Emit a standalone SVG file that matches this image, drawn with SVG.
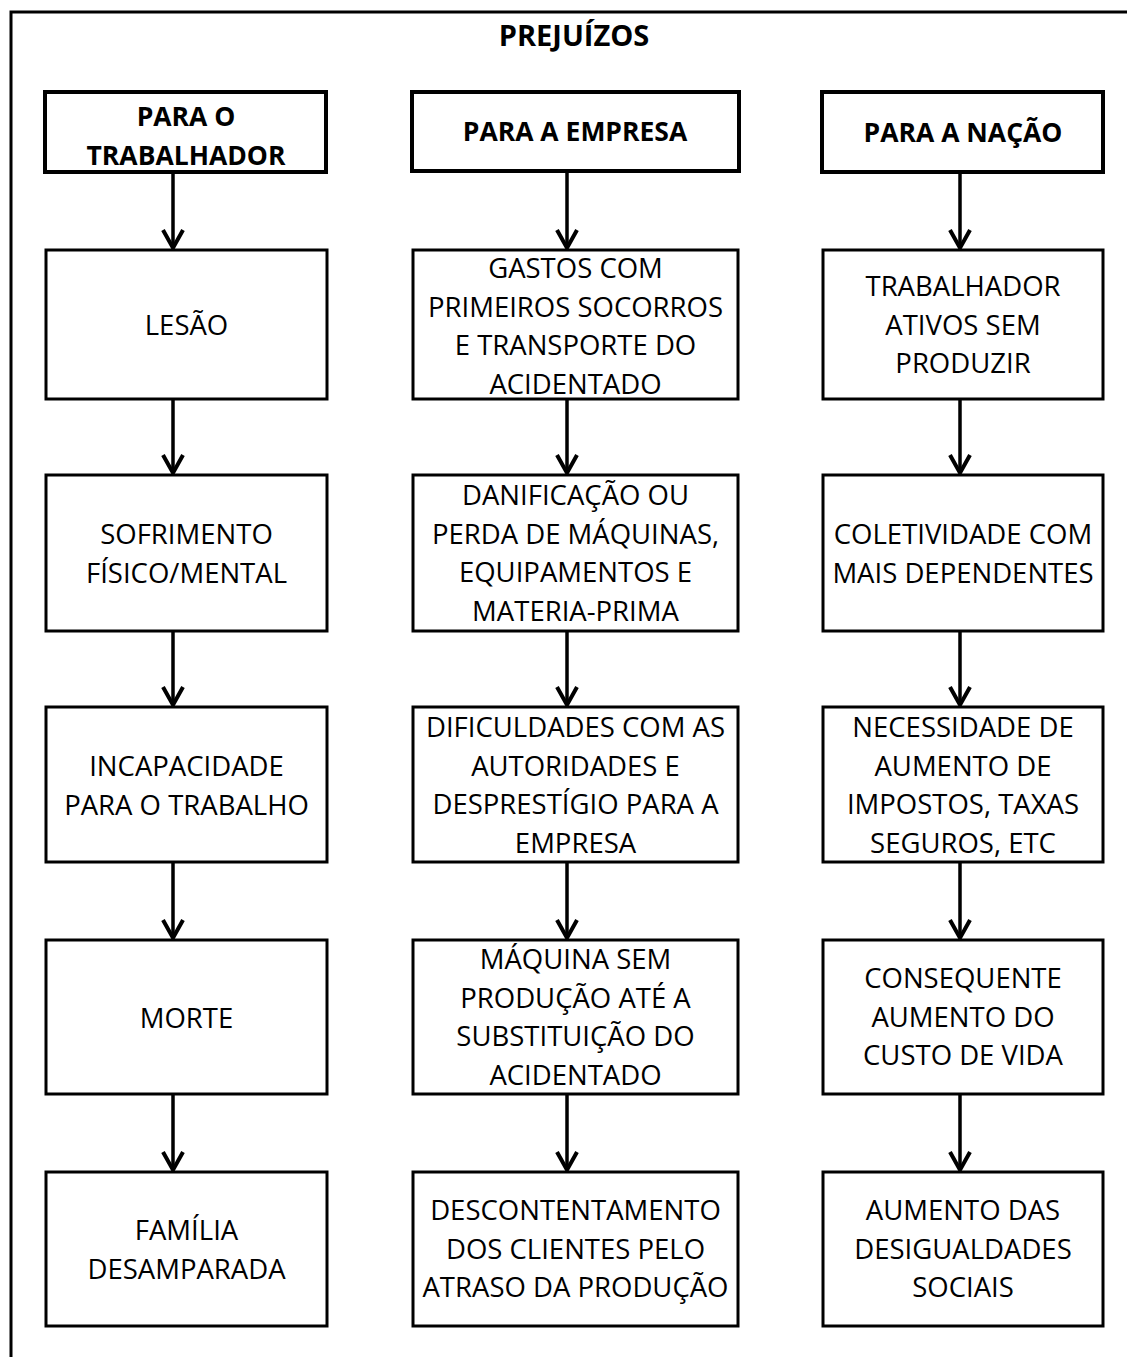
<svg xmlns="http://www.w3.org/2000/svg" width="1127" height="1357" viewBox="0 0 1127 1357">
<style>
  .frame{stroke:#000;stroke-width:3;fill:none}
  .hdr{fill:#fff;stroke:#000;stroke-width:4}
  .box{fill:#fff;stroke:#000;stroke-width:3}
  .t{font-family:"Open Sans","DejaVu Sans",sans-serif;font-size:27.5px;fill:#000;text-anchor:middle}
  .b{font-weight:bold;font-size:26.5px}
  .title{font-size:29px}
  .conn{stroke:#000;stroke-width:3.5;fill:none}
</style>
<defs>
  <marker id="arr" markerUnits="userSpaceOnUse" orient="auto" viewBox="-22 -12 24 24" markerWidth="24" markerHeight="24" refX="0" refY="0" overflow="visible">
    <path d="M-18,-10 L0,0 L-18,10" fill="none" stroke="#000" stroke-width="4"/>
  </marker>
</defs>
<rect width="1127" height="1357" fill="#fff"/>
<path class="frame" d="M11,1357 V12 H1127"/>
<text class="t b title" x="574" y="46">PREJUÍZOS</text>

<g id="connectors">
  <line class="conn" x1="173" y1="172" x2="173" y2="248" marker-end="url(#arr)"/>
  <line class="conn" x1="567" y1="172" x2="567" y2="248" marker-end="url(#arr)"/>
  <line class="conn" x1="960" y1="172" x2="960" y2="248" marker-end="url(#arr)"/>
  <line class="conn" x1="173" y1="399" x2="173" y2="473" marker-end="url(#arr)"/>
  <line class="conn" x1="567" y1="399" x2="567" y2="473" marker-end="url(#arr)"/>
  <line class="conn" x1="960" y1="399" x2="960" y2="473" marker-end="url(#arr)"/>
  <line class="conn" x1="173" y1="631" x2="173" y2="705" marker-end="url(#arr)"/>
  <line class="conn" x1="567" y1="631" x2="567" y2="705" marker-end="url(#arr)"/>
  <line class="conn" x1="960" y1="631" x2="960" y2="705" marker-end="url(#arr)"/>
  <line class="conn" x1="173" y1="862" x2="173" y2="938" marker-end="url(#arr)"/>
  <line class="conn" x1="567" y1="862" x2="567" y2="938" marker-end="url(#arr)"/>
  <line class="conn" x1="960" y1="862" x2="960" y2="938" marker-end="url(#arr)"/>
  <line class="conn" x1="173" y1="1094" x2="173" y2="1170" marker-end="url(#arr)"/>
  <line class="conn" x1="567" y1="1094" x2="567" y2="1170" marker-end="url(#arr)"/>
  <line class="conn" x1="960" y1="1094" x2="960" y2="1170" marker-end="url(#arr)"/>
</g>

<g id="h1"><rect class="hdr" x="45" y="92" width="281" height="80"/><text class="t b" x="186" y="126">PARA O<tspan x="186" dy="38.5">TRABALHADOR</tspan></text></g>
<g id="h2"><rect class="hdr" x="412" y="92" width="327" height="79"/><text class="t b" x="575" y="141">PARA A EMPRESA</text></g>
<g id="h3"><rect class="hdr" x="822" y="92" width="281" height="80"/><text class="t b" x="963" y="142">PARA A NAÇÃO</text></g>

<g id="c1r1"><rect class="box" x="46" y="250" width="281" height="149"/><text class="t" x="186.5" y="335">LESÃO</text></g>
<g id="c1r2"><rect class="box" x="46" y="475" width="281" height="156"/><text class="t" x="186.5" y="544">SOFRIMENTO<tspan x="186.5" dy="38.7">FÍSICO/MENTAL</tspan></text></g>
<g id="c1r3"><rect class="box" x="46" y="707" width="281" height="155"/><text class="t" x="186.5" y="776">INCAPACIDADE<tspan x="186.5" dy="38.7">PARA O TRABALHO</tspan></text></g>
<g id="c1r4"><rect class="box" x="46" y="940" width="281" height="154"/><text class="t" x="186.5" y="1028">MORTE</text></g>
<g id="c1r5"><rect class="box" x="46" y="1172" width="281" height="154"/><text class="t" x="186.5" y="1240">FAMÍLIA<tspan x="186.5" dy="38.7">DESAMPARADA</tspan></text></g>

<g id="c2r1"><rect class="box" x="413" y="250" width="325" height="149"/><text class="t" x="575.5" y="278">GASTOS COM<tspan x="575.5" dy="38.7">PRIMEIROS SOCORROS</tspan><tspan x="575.5" dy="38.7">E TRANSPORTE DO</tspan><tspan x="575.5" dy="38.7">ACIDENTADO</tspan></text></g>
<g id="c2r2"><rect class="box" x="413" y="475" width="325" height="156"/><text class="t" x="575.5" y="505">DANIFICAÇÃO OU<tspan x="575.5" dy="38.7">PERDA DE MÁQUINAS,</tspan><tspan x="575.5" dy="38.7">EQUIPAMENTOS E</tspan><tspan x="575.5" dy="38.7">MATERIA-PRIMA</tspan></text></g>
<g id="c2r3"><rect class="box" x="413" y="707" width="325" height="155"/><text class="t" x="575.5" y="737">DIFICULDADES COM AS<tspan x="575.5" dy="38.7">AUTORIDADES E</tspan><tspan x="575.5" dy="38.7">DESPRESTÍGIO PARA A</tspan><tspan x="575.5" dy="38.7">EMPRESA</tspan></text></g>
<g id="c2r4"><rect class="box" x="413" y="940" width="325" height="154"/><text class="t" x="575.5" y="969">MÁQUINA SEM<tspan x="575.5" dy="38.7">PRODUÇÃO ATÉ A</tspan><tspan x="575.5" dy="38.7">SUBSTITUIÇÃO DO</tspan><tspan x="575.5" dy="38.7">ACIDENTADO</tspan></text></g>
<g id="c2r5"><rect class="box" x="413" y="1172" width="325" height="154"/><text class="t" x="575.5" y="1220">DESCONTENTAMENTO<tspan x="575.5" dy="38.7">DOS CLIENTES PELO</tspan><tspan x="575.5" dy="38.7">ATRASO DA PRODUÇÃO</tspan></text></g>

<g id="c3r1"><rect class="box" x="823" y="250" width="280" height="149"/><text class="t" x="963" y="296">TRABALHADOR<tspan x="963" dy="38.7">ATIVOS SEM</tspan><tspan x="963" dy="38.7">PRODUZIR</tspan></text></g>
<g id="c3r2"><rect class="box" x="823" y="475" width="280" height="156"/><text class="t" x="963" y="544">COLETIVIDADE COM<tspan x="963" dy="38.7">MAIS DEPENDENTES</tspan></text></g>
<g id="c3r3"><rect class="box" x="823" y="707" width="280" height="155"/><text class="t" x="963" y="737">NECESSIDADE DE<tspan x="963" dy="38.7">AUMENTO DE</tspan><tspan x="963" dy="38.7">IMPOSTOS, TAXAS</tspan><tspan x="963" dy="38.7">SEGUROS, ETC</tspan></text></g>
<g id="c3r4"><rect class="box" x="823" y="940" width="280" height="154"/><text class="t" x="963" y="988">CONSEQUENTE<tspan x="963" dy="38.7">AUMENTO DO</tspan><tspan x="963" dy="38.7">CUSTO DE VIDA</tspan></text></g>
<g id="c3r5"><rect class="box" x="823" y="1172" width="280" height="154"/><text class="t" x="963" y="1220">AUMENTO DAS<tspan x="963" dy="38.7">DESIGUALDADES</tspan><tspan x="963" dy="38.7">SOCIAIS</tspan></text></g>
</svg>
